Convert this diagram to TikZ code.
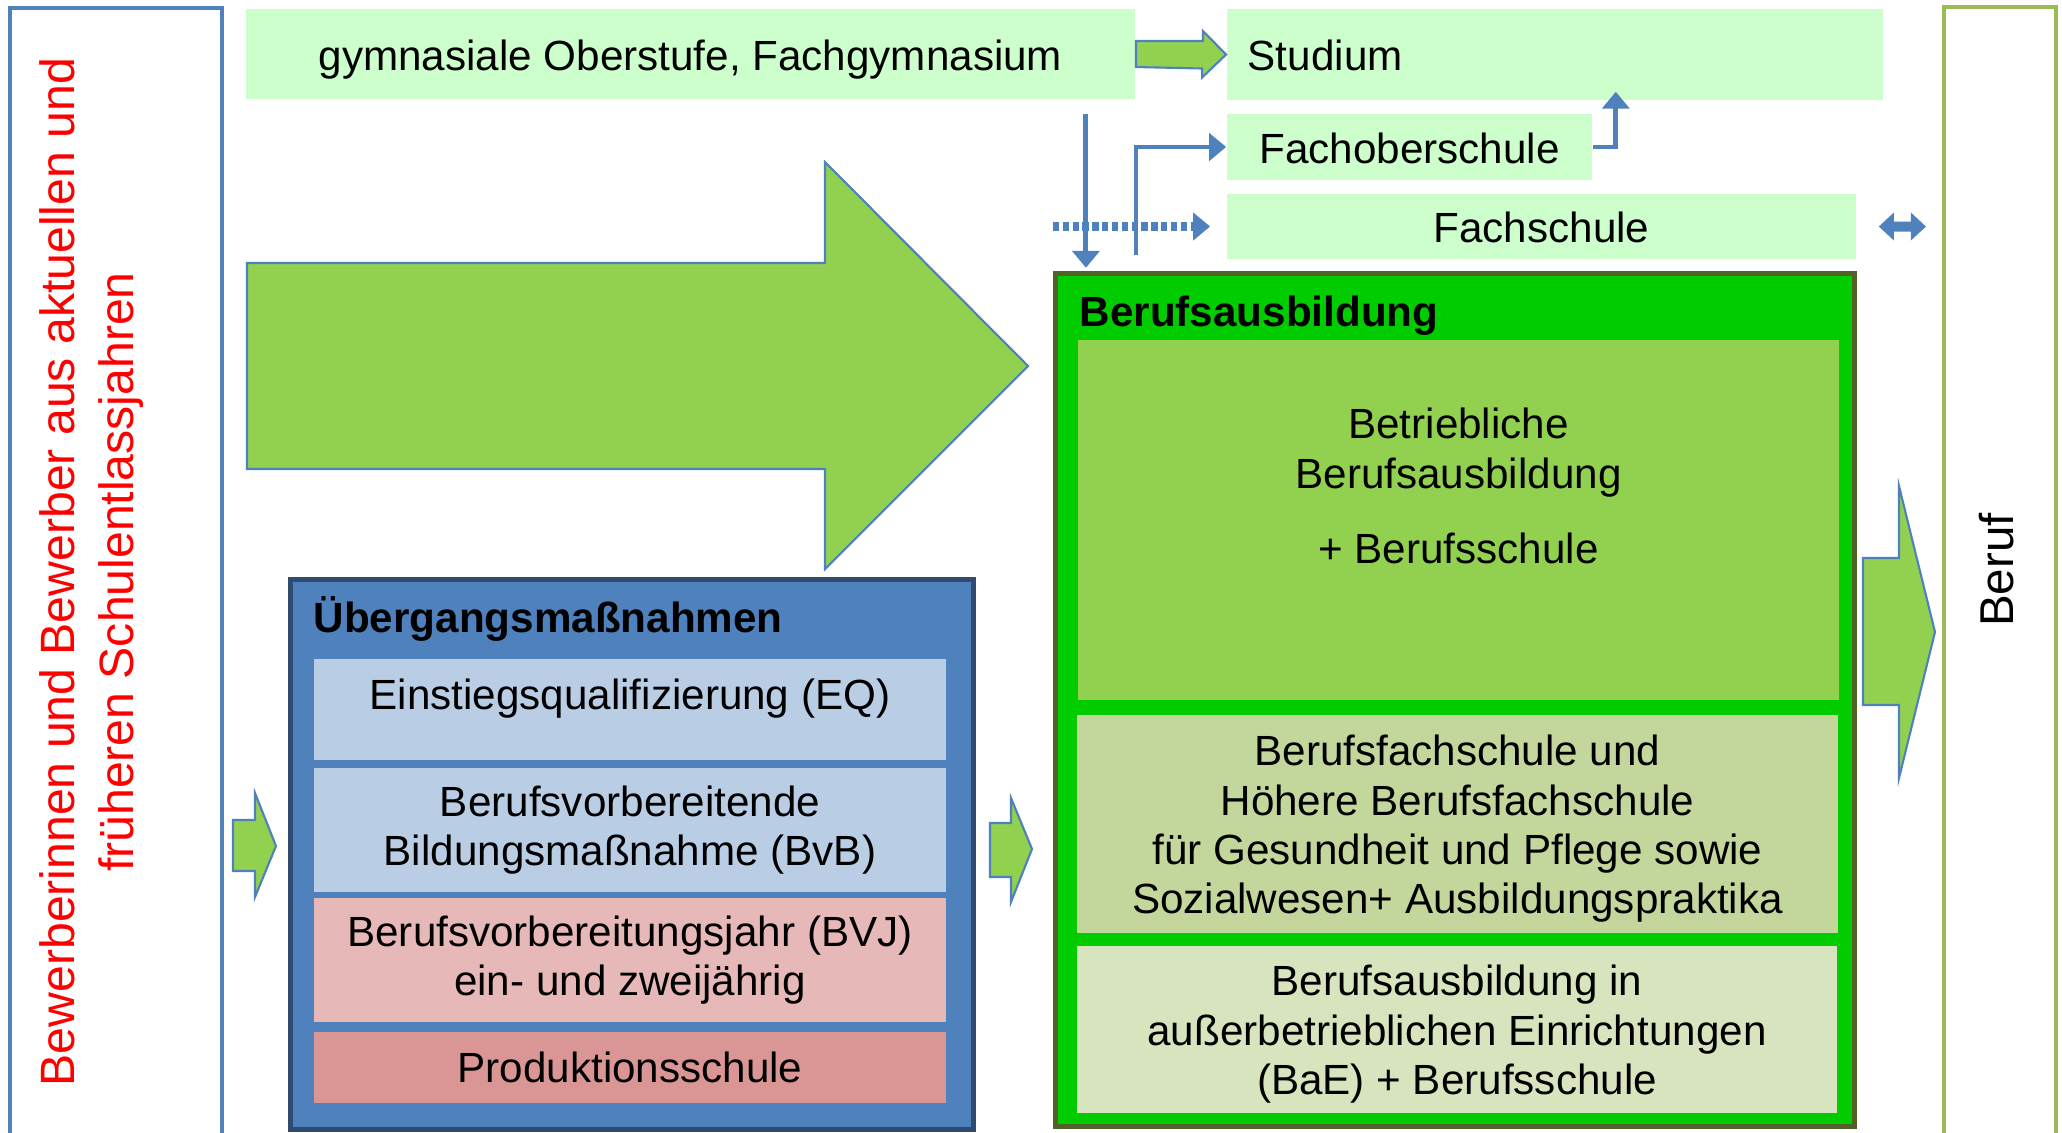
\documentclass[tikz,border=0pt]{standalone}
\usepackage{fontspec}
\setmainfont{Liberation Sans}
\usetikzlibrary{arrows.meta,calc}

\definecolor{paleGreen}{HTML}{CCFFCC}
\definecolor{arrowGreen}{HTML}{92D050}
\definecolor{officeBlue}{HTML}{4F81BD}
\definecolor{navyBlue}{HTML}{2F4B70}
\definecolor{leafGreen}{HTML}{00CC00}
\definecolor{oliveGreen}{HTML}{4F6228}
\definecolor{berufGreen}{HTML}{9BBB59}
\definecolor{iceBlue}{HTML}{B9CDE5}
\definecolor{rose}{HTML}{E6B9B8}
\definecolor{oldRose}{HTML}{D99694}
\definecolor{sageGreen}{HTML}{C3D69B}
\definecolor{mintGreen}{HTML}{D7E4BD}

\newcommand{\tallline}{\rule{0pt}{0.4cm}}

\begin{document}
\begin{tikzpicture}[x=0.01cm,y=-0.01cm,
    txt/.style={font=\fontsize{12}{14}\selectfont,align=center,inner sep=0pt},
    head/.style={font=\fontsize{12}{14}\selectfont\bfseries,inner sep=0pt,anchor=base west},
    pale/.style={txt,fill=paleGreen,text height=0.32cm,text depth=0cm},
    cell/.style={txt,fill=#1,minimum width=6.32cm},
    slot/.style={txt,fill=#1,minimum width=7.6cm},
    blockarrow/.style={fill=arrowGreen,draw=officeBlue,line width=0.6pt},
    bluearr/.style={draw=officeBlue,line width=1.4pt,-{Triangle[width=0.27cm,length=0.17cm]}}]
    \clip (0,0) rectangle (2062,1132);
    \fill[white] (0,0) rectangle (2062,1132);

    \draw[officeBlue,line width=1.2pt] (10,8) rectangle (222,1250);
    \node[red,rotate=90,align=center,inner sep=0pt,font=\fontsize{13.7}{16.8}\selectfont] (bewerber) at (91.5,572)
      {Bewerberinnen und Bewerber aus aktuellen und\\früheren Schulentlassjahren};
    \draw[berufGreen,line width=1.2pt] (1944,7) rectangle (2056,1250);
    \node[rotate=90,inner sep=0pt,font=\fontsize{13.5}{16}\selectfont] (beruf) at (1997,570) {Beruf};

    \node[pale,minimum width=8.89cm,minimum height=0.9cm] (gym) at (690.5,54) {gymnasiale Oberstufe, Fachgymnasium};
    \node[pale,minimum width=6.56cm,minimum height=0.91cm,text width=6.14cm,align=left] (stud) at (1555,54.5) {Studium};
    \node[pale,minimum width=3.65cm,minimum height=0.66cm] (fos) at (1409.5,147) {Fachoberschule};
    \node[pale,minimum width=6.29cm,minimum height=0.65cm] (fs) at (1541.5,226.5) {Fachschule};

    \filldraw[blockarrow] (247,263) -- (825,263) -- (825,162) -- (1028,366) -- (825,569) -- (825,469) -- (247,469) -- cycle;
    \filldraw[blockarrow] ([yshift=1.3mm]gym.east) -- ++(67,0) -- ++(0,-10) -- (stud.west) -- ++(-24,23) -- ++(0,-9) -- ([yshift=-1.3mm]gym.east) -- cycle;

    \node[draw=navyBlue,fill=officeBlue,line width=1.4pt,minimum width=6.83cm,minimum height=5.5cm] (ueb) at (632,854.5) {};
    \node[head] (uebtitle) at (313,632) {Übergangsmaßnahmen};
    \node[cell=iceBlue,minimum height=1.01cm] (eq) at (630,709.5) {};
    \node[txt] (eqtext) at (630,699) {Einstiegsqualifizierung (EQ)};
    \node[cell=iceBlue,minimum height=1.24cm] (bvb) at (630,830) {Berufsvorbereitende\\Bildungsmaßnahme (BvB)};
    \node[cell=rose,minimum height=1.24cm] (bvj) at (630,960) {Berufsvorbereitungsjahr (BVJ)\\ein- und zweijährig};
    \node[cell=oldRose,minimum height=0.71cm] (prod) at (630,1067.5) {Produktionsschule};

    \node[draw=oliveGreen,fill=leafGreen,line width=1.4pt,minimum width=7.99cm,minimum height=8.53cm] (ba) at (1455,700) {};
    \node[head] (batitle) at (1079,326) {Berufsausbildung};
    \node[slot=arrowGreen,minimum height=3.6cm] (bb) at (1458.5,520) {};
    \node[txt] (bbtext) at (1458.5,486) {Betriebliche\\Berufsausbildung\\[0.26cm]+ Berufsschule};
    \node[slot=sageGreen,minimum height=2.18cm] (bfs) at (1457.5,824) {\tallline Berufsfachschule und\\Höhere Berufsfachschule\\für Gesundheit und Pflege sowie\\Sozialwesen+ Ausbildungspraktika};
    \node[slot=mintGreen,minimum height=1.67cm] (bae) at (1457,1029.5) {\tallline Berufsausbildung in\\außerbetrieblichen Einrichtungen\\(BaE) + Berufsschule};

    \filldraw[blockarrow] (233,820) -- (255,820) -- (255,793) -- (276,846) -- (255,897) -- (255,871) -- (233,871) -- cycle;
    \filldraw[blockarrow] (990,823) -- (1011,823) -- (1011,798) -- (1032,849) -- (1011,902) -- (1011,877) -- (990,877) -- cycle;
    \filldraw[blockarrow] (1863,558) -- (1899,558) -- (1899,486) -- (1935,632) -- (1899,778) -- (1899,705) -- (1863,705) -- cycle;

    \coordinate (dropstart) at ([xshift=-5mm,yshift=-1.4mm]gym.south east);
    \draw[bluearr] (dropstart) -- ([yshift=0.3mm]dropstart |- ba.north);
    \coordinate (elbowfoot) at ([yshift=1.6mm]ba.north -| gym.east);
    \draw[bluearr] (elbowfoot) |- (fos.west);
    \draw[bluearr,line width=2.4pt,dash pattern=on 1.8pt off 1pt] (fs.west -| ba.west) -- ([xshift=-1.6mm]fs.west);
    \draw[bluearr] (fos.east) -| ([xshift=2.3mm,yshift=0.9mm]fos.east |- stud.south);
    \fill[officeBlue] ([xshift=2.2mm]fs.east) -- ++(15,-14) -- ++(0,9) -- ++(17,0) -- ++(0,-9) -- ++(15,14)
      -- ++(-15,14) -- ++(0,-9) -- ++(-17,0) -- ++(0,9) -- cycle;
\end{tikzpicture}
\end{document}
